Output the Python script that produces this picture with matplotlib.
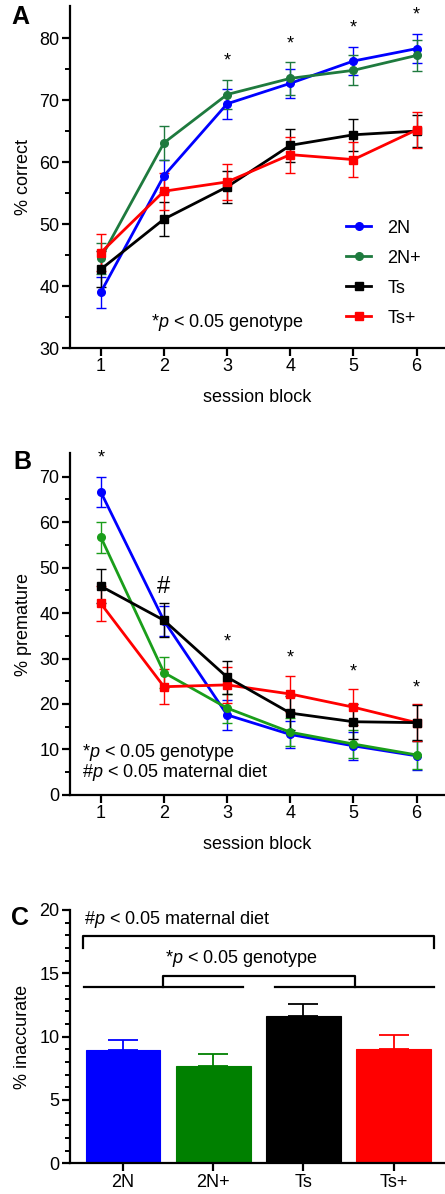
import matplotlib
matplotlib.use("Agg")
import matplotlib.pyplot as plt
from matplotlib.lines import Line2D
import numpy as np

plt.rcParams['font.family'] = ['Liberation Sans', 'DejaVu Sans']
plt.rcParams['mathtext.fontset'] = 'custom'
plt.rcParams['mathtext.it'] = 'Liberation Sans:italic'
plt.rcParams['mathtext.rm'] = 'Liberation Sans'

# ---------------- data ----------------
blocks = [1, 2, 3, 4, 5, 6]
groups = ["2N", "2N+", "Ts", "Ts+"]

# Panel A: % correct
a_2n = [39.0, 57.8, 69.4, 72.7, 76.3, 78.3]
a_2n_err = [2.5, 2.6, 2.4, 2.3, 2.3, 2.3]
a_2np = [44.5, 63.1, 70.9, 73.5, 74.8, 77.2]
a_2np_err = [2.5, 2.7, 2.4, 2.6, 2.4, 2.5]
a_ts = [42.7, 50.8, 56.0, 62.7, 64.4, 65.0]
a_ts_err = [2.9, 2.8, 2.6, 2.7, 2.6, 2.6]
a_tsp = [45.4, 55.3, 56.8, 61.2, 60.4, 65.2]
a_tsp_err = [3.0, 3.0, 2.9, 2.9, 2.8, 2.9]
a_star_blocks = [3, 4, 5, 6]
a_star_y = [76.3, 79.1, 81.7, 83.7]

# Panel B: % premature
b_2n = [66.6, 38.3, 17.6, 13.3, 10.8, 8.6]
b_2n_err = [3.2, 3.3, 3.3, 3.0, 3.1, 3.2]
b_2np = [56.7, 26.9, 19.1, 13.8, 11.2, 8.8]
b_2np_err = [3.4, 3.4, 3.2, 3.1, 3.1, 3.1]
b_ts = [45.9, 38.4, 25.9, 18.0, 16.1, 15.9]
b_ts_err = [3.7, 3.7, 3.6, 3.7, 3.9, 3.9]
b_tsp = [42.1, 23.8, 24.2, 22.2, 19.3, 15.9]
b_tsp_err = [3.8, 3.8, 4.0, 4.0, 3.9, 4.0]
b_star_blocks = [1, 3, 4, 5, 6]
b_star_y = [74.0, 33.7, 30.2, 27.1, 23.6]
b_hash_block = 2
b_hash_y = 45.8

# Panel C: % inaccurate
c_vals = [8.95, 7.7, 11.63, 9.05]
c_err = [0.8, 0.9, 0.95, 1.05]

# ---------------- styles ----------------
col_blue = "#0000ff"
col_green_a = "#1e7a3e"
col_green_b = "#1a9e1a"
col_black = "#000000"
col_red = "#ff0000"
FS = 13

fig = plt.figure(figsize=(4.45, 11.94), dpi=100)

def style_axes(ax):
    for s in ["top", "right"]:
        ax.spines[s].set_visible(False)
    for s in ["left", "bottom"]:
        ax.spines[s].set_linewidth(1.6)
    ax.tick_params(axis="both", which="major", direction="out", length=5.5, width=1.6,
                   labelsize=FS, pad=2)
    ax.tick_params(axis="y", which="minor", direction="out", length=3.5, width=1.4)
    ax.tick_params(axis="x", which="minor", length=0)

def plot_series(ax, y, err, color, marker):
    ax.errorbar(blocks, y, yerr=err, color=color, marker=marker, markersize=5.5,
                linewidth=2.0, elinewidth=1.0, capsize=3.5, capthick=1.0,
                clip_on=False)

# ---------------- Panel A ----------------
axA = fig.add_axes([0.157, 0.7085, 0.843, 0.2866])
style_axes(axA)
plot_series(axA, a_2n, a_2n_err, col_blue, "o")
plot_series(axA, a_2np, a_2np_err, col_green_a, "o")
plot_series(axA, a_ts, a_ts_err, col_black, "s")
plot_series(axA, a_tsp, a_tsp_err, col_red, "s")
axA.set_xlim(0.51, 6.45)
axA.set_ylim(30, 85.2)
axA.set_yticks([30, 40, 50, 60, 70, 80])
axA.set_yticks(np.arange(35, 85, 10), minor=True)
axA.set_xticks(blocks)
axA.set_ylabel("% correct", fontsize=FS, labelpad=5)
axA.set_xlabel("session block", fontsize=FS, labelpad=10)
for b, yy in zip(a_star_blocks, a_star_y):
    axA.text(b, yy, "*", ha="center", va="center", fontsize=13)
axA.text(3.0, 34.1, r"*$\it{p}$ < 0.05 genotype", ha="center", va="center", fontsize=FS)
leg_handles = [
    Line2D([], [], color=col_blue, marker="o", markersize=5.5, linewidth=2.0),
    Line2D([], [], color=col_green_a, marker="o", markersize=5.5, linewidth=2.0),
    Line2D([], [], color=col_black, marker="s", markersize=5.5, linewidth=2.0),
    Line2D([], [], color=col_red, marker="s", markersize=5.5, linewidth=2.0),
]
axA.legend(leg_handles, groups, loc="lower right", bbox_to_anchor=(0.98, 0.015),
           frameon=False, fontsize=FS, handlelength=1.4, labelspacing=0.72,
           handletextpad=0.9)
fig.text(0.045, 0.986, "A", fontsize=18, fontweight="bold", ha="center", va="center")

# ---------------- Panel B ----------------
axB = fig.add_axes([0.157, 0.3342, 0.843, 0.2861])
style_axes(axB)
plot_series(axB, b_2n, b_2n_err, col_blue, "o")
plot_series(axB, b_2np, b_2np_err, col_green_b, "o")
plot_series(axB, b_tsp, b_tsp_err, col_red, "s")
plot_series(axB, b_ts, b_ts_err, col_black, "s")
axB.set_xlim(0.51, 6.45)
axB.set_ylim(0, 75.1)
axB.set_yticks(np.arange(0, 71, 10))
axB.set_yticks(np.arange(5, 75, 10), minor=True)
axB.set_xticks(blocks)
axB.set_ylabel("% premature", fontsize=FS, labelpad=5)
axB.set_xlabel("session block", fontsize=FS, labelpad=10)
for b, yy in zip(b_star_blocks, b_star_y):
    axB.text(b, yy, "*", ha="center", va="center", fontsize=13)
axB.text(b_hash_block, b_hash_y, "#", ha="center", va="center", fontsize=17)
axB.text(0.7, 9.4, r"*$\it{p}$ < 0.05 genotype", ha="left", va="center", fontsize=FS)
axB.text(0.7, 4.9, r"#$\it{p}$ < 0.05 maternal diet", ha="left", va="center", fontsize=FS)
fig.text(0.05, 0.613, "B", fontsize=18, fontweight="bold", ha="center", va="center")

# ---------------- Panel C ----------------
axC = fig.add_axes([0.157, 0.0257, 0.843, 0.2122])
style_axes(axC)
xpos = np.arange(len(groups))
bar_cols = [col_blue, "#008000", col_black, col_red]
axC.bar(xpos, c_vals, width=0.83, color=bar_cols, edgecolor=bar_cols, linewidth=0.8)
for x, v, e, c in zip(xpos, c_vals, c_err, bar_cols):
    axC.errorbar([x], [v], yerr=[[0], [e]], color=c, elinewidth=1.3, capsize=11,
                 capthick=1.3, fmt="none")
axC.set_xlim(-0.59, 3.57)
axC.set_ylim(0, 20)
axC.set_yticks([0, 5, 10, 15, 20])
axC.set_yticks([v for v in range(0, 21) if v % 5 != 0], minor=True)
axC.set_xticks(xpos)
axC.set_xticklabels(groups, fontsize=FS)
axC.set_ylabel("% inaccurate", fontsize=FS, labelpad=6)
# maternal diet bracket
axC.plot([-0.444, -0.444, 3.444, 3.444], [17.03, 17.95, 17.95, 17.03], color="black",
         linewidth=1.6, clip_on=False)
axC.text(-0.43, 19.26, r"#$\it{p}$ < 0.05 maternal diet", ha="left", va="center", fontsize=FS)
# genotype bracket
axC.plot([-0.437, 1.333], [13.9, 13.9], color="black", linewidth=1.6)
axC.plot([1.685, 3.444], [13.9, 13.9], color="black", linewidth=1.6)
axC.plot([0.444, 0.444, 2.574, 2.574], [13.9, 14.82, 14.82, 13.9], color="black",
         linewidth=1.6)
axC.text(1.316, 16.13, r"*$\it{p}$ < 0.05 genotype", ha="center", va="center", fontsize=FS)
fig.text(0.045, 0.231, "C", fontsize=18, fontweight="bold", ha="center", va="center")

fig.savefig("out.png", dpi=100)
